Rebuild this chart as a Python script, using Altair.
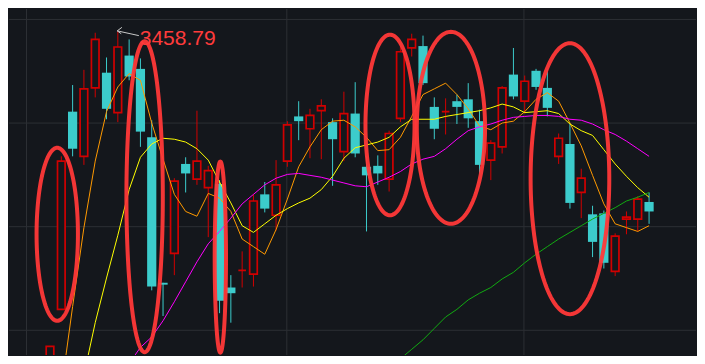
import altair as alt
import pandas as pd
import numpy as np

# ---------------- data (prices) ----------------
idx = list(range(54))
open_ = [3106.8, 3165.8, 3373.8, 3326.8, 3398.8, 3414.8, 3372.8, 3432.8, 3418.8, 3346.8,
         3193.8, 3224.8, 3318.8, 3302.8, 3293.8, 3297.8, 3188.8, 3206.8, 3202.8, 3286.8,
         3264.8, 3321.8, 3368.8, 3355.8, 3374.8, 3362.8, 3331.8, 3371.8, 3315.8, 3316.8,
         3302.8, 3366.8, 3440.8, 3442.8, 3378.8, 3373.8, 3384.8, 3386.8, 3363.8, 3322.8,
         3336.8, 3412.8, 3384.8, 3416.8, 3398.8, 3326.8, 3339.8, 3288.8, 3265.8, 3266.8,
         3205.8, 3260.8, 3260.8, 3278.8]
close = [3126.8, 3321.8, 3334.8, 3397.8, 3449.8, 3376.8, 3441.8, 3410.8, 3352.8, 3189.8,
         3191.8, 3300.8, 3308.8, 3321.8, 3311.8, 3174.8, 3182.8, 3206.8, 3279.8, 3271.8,
         3296.8, 3359.8, 3363.8, 3369.8, 3379.8, 3344.8, 3371.8, 3329.8, 3306.8, 3308.8,
         3350.8, 3436.8, 3449.8, 3403.8, 3355.8, 3373.8, 3378.8, 3366.8, 3317.8, 3340.8,
         3398.8, 3389.8, 3405.8, 3399.8, 3377.8, 3345.8, 3277.8, 3303.8, 3236.8, 3214.8,
         3242.8, 3262.8, 3281.8, 3268.8]
high = [3126.8, 3326.8, 3401.8, 3417.8, 3456.8, 3430.8, 3458.79, 3449.8, 3429.8, 3364.8,
        3193.8, 3303.8, 3325.8, 3374.8, 3316.8, 3301.8, 3201.8, 3226.8, 3286.8, 3299.8,
        3322.8, 3363.8, 3384.8, 3376.8, 3386.8, 3366.8, 3394.8, 3404.8, 3326.8, 3327.8,
        3353.8, 3441.8, 3455.8, 3453.8, 3388.8, 3387.8, 3391.8, 3403.8, 3375.8, 3343.8,
        3400.8, 3440.8, 3411.8, 3418.8, 3418.8, 3350.8, 3361.8, 3313.8, 3274.8, 3269.8,
        3245.8, 3268.8, 3284.8, 3288.8]
low = [3101.8, 3165.8, 3326.8, 3317.8, 3388.8, 3365.8, 3362.8, 3406.8, 3336.8, 3185.8,
       3158.8, 3201.8, 3288.8, 3296.8, 3241.8, 3161.8, 3151.8, 3188.8, 3189.8, 3267.8,
       3248.8, 3315.8, 3343.8, 3324.8, 3323.8, 3295.8, 3321.8, 3325.8, 3247.8, 3296.8,
       3289.8, 3362.8, 3431.8, 3401.8, 3344.8, 3349.8, 3360.8, 3356.8, 3308.8, 3301.8,
       3329.8, 3386.8, 3371.8, 3396.8, 3368.8, 3318.8, 3271.8, 3261.8, 3220.8, 3208.8,
       3200.8, 3244.8, 3247.8, 3255.8]

N = None
ma5 = [N, 3081.8, 3168.8, 3251.8, 3321.8, 3373.8, 3399.8, 3413.8, 3406.8, 3361.8,
       3323.8, 3286.8, 3268.8, 3263.8, 3287.8, 3282.8, 3268.8, 3239.8, 3231.8, 3223.8,
       3249.8, 3281.8, 3315.8, 3336.8, 3354.8, 3363.8, 3364.8, 3357.8, 3346.8, 3332.8,
       3333.8, 3346.8, 3368.8, 3391.8, 3397.8, 3403.8, 3391.8, 3376.8, 3358.8, 3354.8,
       3361.8, 3363.8, 3373.8, 3386.8, 3393.8, 3384.8, 3361.8, 3337.8, 3306.8, 3276.8,
       3255.8, 3251.8, 3247.8, 3253.8]
ma10 = [N, N, N, 3096.8, 3151.8, 3198.8, 3243.8, 3291.8, 3325.8, 3339.8,
        3345.8, 3344.8, 3341.8, 3334.8, 3322.8, 3299.8, 3277.8, 3253.8, 3246.8, 3255.8,
        3264.8, 3271.8, 3277.8, 3282.8, 3291.8, 3305.8, 3324.8, 3335.8, 3338.8, 3341.8,
        3346.8, 3357.8, 3365.8, 3365.8, 3365.8, 3368.8, 3370.8, 3372.8, 3374.8, 3377.8,
        3381.8, 3378.8, 3372.8, 3373.8, 3374.8, 3371.8, 3360.8, 3353.8, 3348.8, 3333.8,
        3318.8, 3305.8, 3293.8, 3283.8]
ma20 = [N, N, N, N, N, N, N, 3108.8, 3125.8, 3136.8,
        3153.8, 3173.8, 3194.8, 3215.8, 3234.8, 3247.8, 3261.8, 3276.8, 3286.8, 3296.8,
        3303.8, 3307.8, 3308.8, 3306.8, 3304.8, 3301.8, 3298.8, 3295.8, 3294.8, 3299.8,
        3304.8, 3310.8, 3318.8, 3323.8, 3326.8, 3334.8, 3344.8, 3353.8, 3357.8, 3360.8,
        3364.8, 3367.8, 3368.8, 3369.8, 3369.8, 3368.8, 3365.8, 3364.8, 3360.8, 3354.8,
        3349.8, 3342.8, 3334.8, 3326.8]
ma60 = [N] * 31 + [3113.8, 3123.8, 3133.8, 3145.8, 3157.8, 3165.8, 3175.8, 3182.8, 3188.8,
                   3197.8, 3204.8, 3214.8, 3223.8, 3231.8, 3239.8, 3246.8, 3253.8, 3260.8,
                   3266.8, 3272.8, 3279.8, 3283.8, 3288.8]

# annotation ellipses (centre in candle index / price, radii in same units)
ell_cx = [0.64, 8.37, 15.07, 30.08, 35.47, 46.0]
ell_cy = [3244.8, 3284.3, 3220.8, 3359.8, 3356.8, 3303.3]
ell_rx = [1.83, 1.61, 0.50, 2.17, 3.02, 3.48]
ell_ry = [91.0, 163.5, 100.5, 95.0, 101.0, 142.5]

high_label = "3458.79"
high_idx = 6

grid_x = [-2.08, 20.95, 41.93]
grid_y = [3470.8, 3361.8, 3252.8, 3143.8]

# ---------------- styling ----------------
BG = "#14171c"
GRID = "#2c2f34"
RED = "#d10000"
CYAN = "#3ccccc"
ELL = "#ff3838"

W, H = 689, 348
xs = alt.Scale(domain=[-3.186, 56.71], nice=False, zero=False)
ys = alt.Scale(domain=[3117.8, 3481.8], nice=False, zero=False)

df = pd.DataFrame({"i": idx, "open": open_, "close": close, "high": high, "low": low})
df["up"] = df["close"] >= df["open"]
df["top"] = df[["open", "close"]].max(axis=1)
df["bot"] = df[["open", "close"]].min(axis=1)
df["wc"] = np.where(df["up"], RED, CYAN)

ma_rows = []
for name, arr, col in [("MA5", ma5, "#ff9900"), ("MA10", ma10, "#ffff00"),
                       ("MA20", ma20, "#ff00ff"), ("MA60", ma60, "#11aa11")]:
    for i, v in zip(idx, arr):
        if v is not None:
            ma_rows.append({"i": i, "v": v, "name": name, "col": col})
ma_df = pd.DataFrame(ma_rows)

ell_rows = []
t = np.linspace(0, 2 * np.pi, 161)
for k in range(len(ell_cx)):
    for j, tt in enumerate(t):
        ell_rows.append({"e": k, "o": j,
                         "x": ell_cx[k] + ell_rx[k] * np.cos(tt),
                         "y": ell_cy[k] + ell_ry[k] * np.sin(tt)})
ell_df = pd.DataFrame(ell_rows)

hi = high[high_idx]
arrow_df = pd.DataFrame({
    "x": [7.86, 5.95, 5.95],
    "y": [hi - 5.0, hi, hi],
    "x2": [5.95, 6.36, 6.30],
    "y2": [hi, hi + 3.7, hi - 3.0],
})
text_df = pd.DataFrame({"x": [7.94], "y": [hi - 8.5], "t": [high_label]})

X = lambda f: alt.X(f, scale=xs, axis=None)
Y = lambda f: alt.Y(f, scale=ys, axis=None)

gx = alt.Chart(pd.DataFrame({"g": grid_x})).mark_rule(color=GRID, strokeWidth=1).encode(
    x=X("g:Q"))
gy = alt.Chart(pd.DataFrame({"g": grid_y})).mark_rule(color=GRID, strokeWidth=1).encode(
    y=Y("g:Q"))

wick = alt.Chart(df).mark_rule(strokeWidth=1, clip=True).encode(
    x=X("i:Q"), y=Y("low:Q"), y2="high:Q",
    color=alt.Color("wc:N", scale=None))

up_body = alt.Chart(df).transform_filter("datum.up").mark_bar(
    size=7.6, fill=BG, stroke=RED, strokeWidth=1.7, clip=True).encode(
    x=X("i:Q"), y=Y("bot:Q"), y2="top:Q")

dn_body = alt.Chart(df).transform_filter("!datum.up").mark_bar(
    size=9.2, color=CYAN, clip=True).encode(
    x=X("i:Q"), y=Y("bot:Q"), y2="top:Q")

ma = alt.Chart(ma_df).mark_line(strokeWidth=1, clip=True).encode(
    x=X("i:Q"), y=Y("v:Q"), detail="name:N",
    color=alt.Color("col:N", scale=None))

ell = alt.Chart(ell_df).mark_line(strokeWidth=4, color=ELL, clip=True, opacity=0.95).encode(
    x=X("x:Q"), y=Y("y:Q"), detail="e:N", order="o:Q")

arrow = alt.Chart(arrow_df).mark_rule(color="#c8c8c8", strokeWidth=1).encode(
    x=X("x:Q"), y=Y("y:Q"), x2="x2:Q", y2="y2:Q")

label = alt.Chart(text_df).mark_text(
    align="left", baseline="middle", font="Liberation Sans", fontSize=21,
    color="#ff3b3b").encode(x=X("x:Q"), y=Y("y:Q"), text="t:N")

chart = alt.layer(gx, gy, wick, up_body, dn_body, ma, ell, arrow, label).properties(
    width=W, height=H, background=BG, padding=0,
    autosize=alt.AutoSizeParams(type="fit", contains="padding"),
).configure_view(stroke=None)

chart.save("out.html", embed_options={"renderer": "svg", "actions": False})
